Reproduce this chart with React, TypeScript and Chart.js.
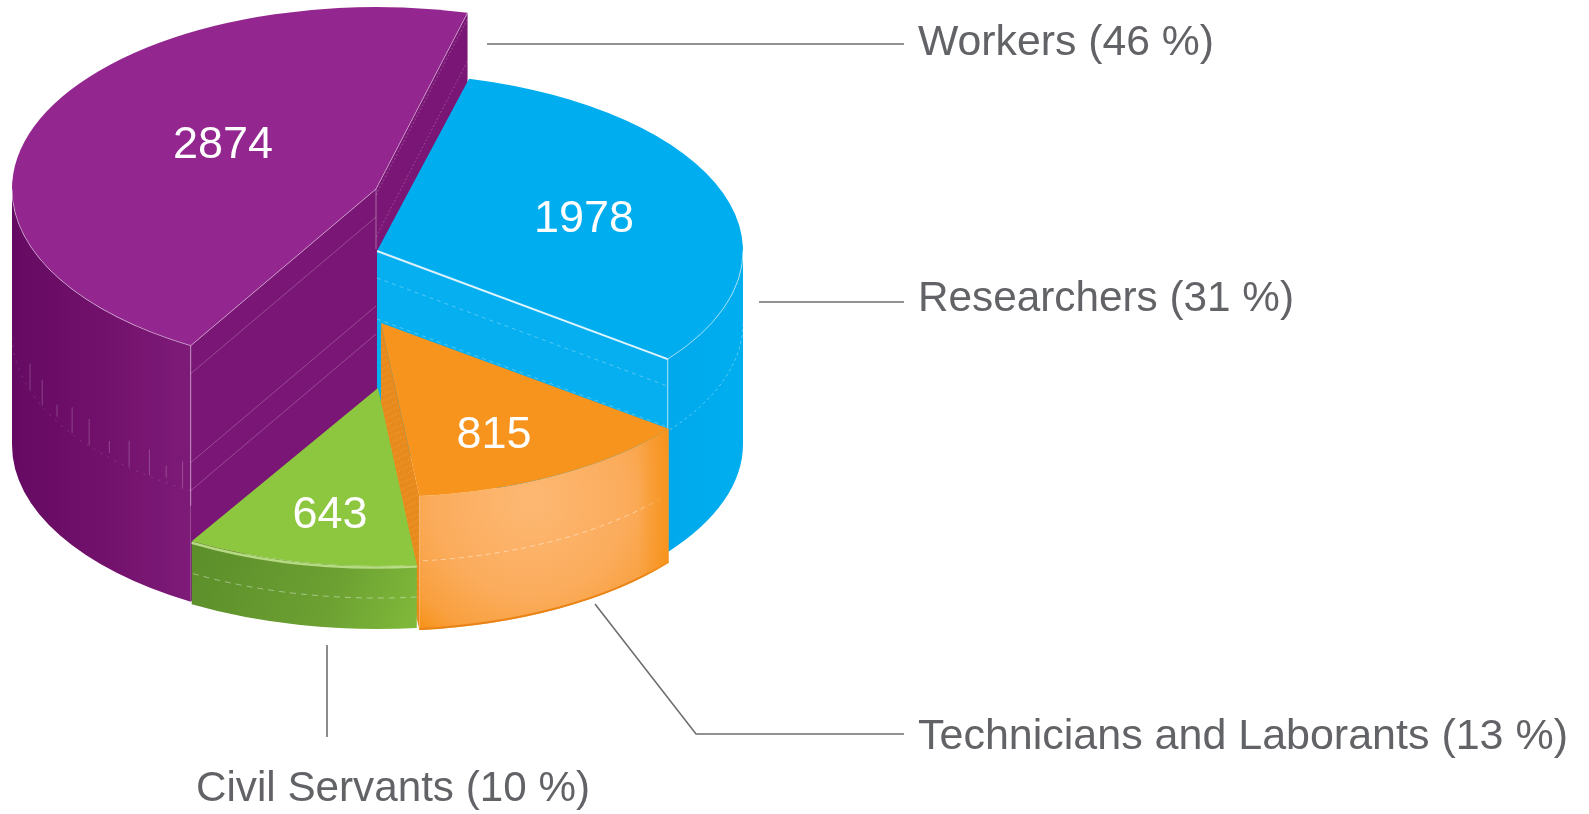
import React, { useEffect, useRef } from "react";
import { Chart, registerables } from "chart.js";

Chart.register(...registerables);

const categories = ["Workers", "Researchers", "Technicians and Laborants", "Civil Servants"];
const employees = [2874, 1978, 815, 643];
const percents = [46, 31, 13, 10];

const topColors = ["#93278F", "#00AEEF", "#F7941E", "#8DC63F"];
const faceColors = ["#7A1675", "#06AFF0", "#E88A1B", "#6E9F2E"];

// placement of the tilted slices on the page
const sliceX = [376, 377, 381, 378];
const sliceY = [189, 251, 323, 388];
const radiusX = [364, 366, 362, 366];
const radiusY = [182, 178, 174, 178];
const depths = [256, 193, 134, 63];

const valuePos = [[223, 146], [584, 220], [494, 436], [330, 516]];
const labelPos = [[918, 55], [918, 311], [918, 749], [196, 801]];
const labelFit = [296, 376, 650, 394];
const leaders = [
  [[487, 44], [904, 44]],
  [[759, 302], [904, 302]],
  [[595, 604], [696, 734], [904, 734]],
  [[327, 645], [327, 737]],
];
const tickAngles = [161.9, 156.5, 151.2, 146.6, 142, 137.1, 132.7, 128.5, 125.2, 122.1];

const rim = (i: number, ang: number, dz = 0) => [
  sliceX[i] + radiusX[i] * Math.cos(ang),
  sliceY[i] + radiusY[i] * Math.sin(ang) + dz,
];

function frontRange(start: number, end: number) {
  const T = Math.PI * 2;
  for (const k of [-T, 0, T]) {
    const a = Math.max(start + k, 0);
    const b = Math.min(end + k, Math.PI);
    if (b > a) return [a, b];
  }
  return null;
}

function wallFill(ctx: CanvasRenderingContext2D, i: number) {
  if (i === 0) {
    const g = ctx.createLinearGradient(13, 0, 193, 0);
    g.addColorStop(0, "#650A62");
    g.addColorStop(0.5, "#72116C");
    g.addColorStop(1, "#7E1B79");
    return g;
  }
  if (i === 1) {
    const g = ctx.createLinearGradient(670, 0, 742, 0);
    g.addColorStop(0, "#00A9EC");
    g.addColorStop(1, "#00AEEF");
    return g;
  }
  if (i === 2) {
    const g = ctx.createRadialGradient(530, 500, 10, 530, 500, 165);
    g.addColorStop(0, "#FDB771");
    g.addColorStop(0.55, "#FBAC5C");
    g.addColorStop(0.85, "#F9A03F");
    g.addColorStop(1, "#F7941E");
    return g;
  }
  const g = ctx.createLinearGradient(200, 540, 418, 628);
  g.addColorStop(0, "#5C8E2A");
  g.addColorStop(0.6, "#6CA032");
  g.addColorStop(1, "#80BA3A");
  return g;
}

function poly(ctx: CanvasRenderingContext2D, pts: number[][]) {
  ctx.beginPath();
  pts.forEach((p, k) => (k ? ctx.lineTo(p[0], p[1]) : ctx.moveTo(p[0], p[1])));
}

function drawFace(ctx: CanvasRenderingContext2D, i: number, ang: number) {
  const h = depths[i];
  const r = rim(i, ang);
  poly(ctx, [[sliceX[i], sliceY[i]], r, [r[0], r[1] + h], [sliceX[i], sliceY[i] + h]]);
  ctx.closePath();
  ctx.fillStyle = faceColors[i];
  ctx.fill();
}

function faceLine(ctx: CanvasRenderingContext2D, i: number, ang: number, dz: number, color: string, dash: number[] = [], w = 1) {
  const r = rim(i, ang, dz);
  ctx.strokeStyle = color;
  ctx.lineWidth = w;
  ctx.setLineDash(dash);
  poly(ctx, [[sliceX[i], sliceY[i] + dz], r]);
  ctx.stroke();
  ctx.setLineDash([]);
}

function rimLine(ctx: CanvasRenderingContext2D, i: number, a: number, b: number, dz: number, color: string, dash: number[] = [], w = 1) {
  ctx.strokeStyle = color;
  ctx.lineWidth = w;
  ctx.setLineDash(dash);
  ctx.beginPath();
  ctx.ellipse(sliceX[i], sliceY[i] + dz, radiusX[i], radiusY[i], 0, a, b);
  ctx.stroke();
  ctx.setLineDash([]);
}

const pie3d = {
  id: "pie3d",
  beforeDatasetDraw(chart: any) {
    const ctx: CanvasRenderingContext2D = chart.ctx;
    const arcs = chart.getDatasetMeta(0).data;
    ctx.save();
    arcs.forEach((arc: any, i: number) => {
      const h = depths[i];
      const x = sliceX[i];
      const y = sliceY[i];
      const rx = radiusX[i];
      const ry = radiusY[i];
      const start = arc.startAngle;
      const end = arc.endAngle;

      // cut faces
      if (i === 0) {
        drawFace(ctx, i, end);
        drawFace(ctx, i, start);
      }
      if (i === 1 || i === 2) drawFace(ctx, i, end);

      // curved outer wall
      const range = frontRange(start, end);
      if (range) {
        ctx.beginPath();
        ctx.ellipse(x, y, rx, ry, 0, range[0], range[1]);
        ctx.ellipse(x, y + h, rx, ry, 0, range[1], range[0], true);
        ctx.closePath();
        ctx.fillStyle = wallFill(ctx, i);
        ctx.fill();
      }

      // decorative seams on the sides
      if (i === 0) {
        const seam = "rgba(255,255,255,0.22)";
        [28, 117, 145].forEach((dz) => faceLine(ctx, 0, start, dz, seam));
        faceLine(ctx, 0, end, 6, seam, [2, 2]);
        faceLine(ctx, 0, end, 48, seam, [2, 2]);
        tickAngles.forEach((deg, k) => {
          const p = rim(0, (deg * Math.PI) / 180, k % 3 === 2 ? 128 : 118);
          poly(ctx, [p, [p[0], p[1] + (k % 3 === 2 ? 12 : 26)]]);
          ctx.strokeStyle = "rgba(255,255,255,0.22)";
          ctx.lineWidth = 1;
          ctx.stroke();
        });
        if (range) rimLine(ctx, 0, range[0], range[1], 145, "rgba(255,255,255,0.15)", [2, 6]);
        const c = rim(0, start);
        poly(ctx, [c, [c[0], c[1] + 160]]);
        ctx.strokeStyle = "rgba(255,255,255,0.4)";
        ctx.stroke();
        poly(ctx, [[x, y], [x, y + 60]]);
        ctx.strokeStyle = "rgba(255,255,255,0.35)";
        ctx.stroke();
      }
      if (i === 1) {
        faceLine(ctx, 1, end, 27, "rgba(255,255,255,0.3)", [4, 4]);
        faceLine(ctx, 1, end, 68, "rgba(255,255,255,0.3)", [4, 4]);
        if (range) rimLine(ctx, 1, range[0], range[1], 72, "rgba(255,255,255,0.35)", [3, 3]);
        const c = rim(1, end);
        poly(ctx, [c, [c[0], c[1] + 70]]);
        ctx.strokeStyle = "rgba(255,255,255,0.4)";
        ctx.lineWidth = 1.5;
        ctx.stroke();
      }
      if (i === 2) {
        for (let k = 1; k < 9; k++) {
          faceLine(ctx, 2, end, k * 13, "rgba(255,255,255,0.12)", [2, 4]);
        }
      }
      if (i === 2 && range) {
        rimLine(ctx, 2, range[0], range[1], 65, "rgba(255,255,255,0.45)", [5, 4]);
        rimLine(ctx, 2, range[0], range[1], h - 1, "rgba(232,130,20,0.95)", [], 2);
        const c = rim(2, start);
        const g = ctx.createLinearGradient(c[0] - 30, 0, c[0], 0);
        g.addColorStop(0, "rgba(247,148,30,0)");
        g.addColorStop(1, "rgba(247,148,30,1)");
        ctx.fillStyle = g;
        ctx.beginPath();
        ctx.ellipse(x, y, rx, ry, 0, start, start + 0.14);
        ctx.ellipse(x, y + h, rx, ry, 0, start + 0.14, start, true);
        ctx.closePath();
        ctx.fill();
      }
      if (i === 3 && range) {
        rimLine(ctx, 3, range[0], range[1], 32, "rgba(255,255,255,0.4)", [6, 5]);
        rimLine(ctx, 3, range[0], range[1], 1.5, "rgba(190,225,140,0.9)", [], 2.5);
      }

      // top face: the library's own arc element, tilted
      ctx.save();
      ctx.translate(x, y);
      ctx.scale(rx / arc.outerRadius, ry / arc.outerRadius);
      ctx.translate(-arc.x, -arc.y);
      arc.draw(ctx);
      ctx.restore();

      // rim highlights on top
      if (i === 0) {
        const c = rim(0, start);
        const d = rim(0, end);
        poly(ctx, [c, [x, y], d]);
        ctx.strokeStyle = "rgba(255,255,255,0.4)";
        ctx.lineWidth = 1;
        ctx.stroke();
        if (range) rimLine(ctx, 0, range[0], range[1], 0, "rgba(255,255,255,0.4)");
      }
      if (i === 1) {
        const c = rim(1, end);
        poly(ctx, [[x, y], c]);
        ctx.strokeStyle = "rgba(255,255,255,0.85)";
        ctx.lineWidth = 2;
        ctx.stroke();
        if (range) rimLine(ctx, 1, range[0], range[1], 0, "rgba(255,255,255,0.5)");
      }
    });
    ctx.restore();
    return false;
  },
  afterDraw(chart: any) {
    const ctx: CanvasRenderingContext2D = chart.ctx;
    ctx.save();
    ctx.textBaseline = "alphabetic";
    leaders.forEach((pts) => {
      poly(ctx, pts);
      ctx.strokeStyle = "#6D6E71";
      ctx.lineWidth = 1.6;
      ctx.stroke();
    });
    ctx.font = '43px "Liberation Sans"';
    ctx.fillStyle = "#626366";
    ctx.textAlign = "left";
    categories.forEach((c, i) => {
      ctx.fillText(`${c} (${percents[i]} %)`, labelPos[i][0], labelPos[i][1], labelFit[i]);
    });
    ctx.font = '45px "Liberation Sans"';
    ctx.fillStyle = "#FFFFFF";
    ctx.textAlign = "center";
    ctx.textBaseline = "middle";
    employees.forEach((v, i) => {
      ctx.fillText(String(v), valuePos[i][0], valuePos[i][1]);
    });
    ctx.restore();
  },
};

export default function App() {
  const ref = useRef<HTMLCanvasElement>(null);
  useEffect(() => {
    document.body.style.margin = "0";
    document.body.style.background = "#FFFFFF";
    const chart = new Chart(ref.current!, {
      type: "pie",
      data: {
        labels: categories,
        datasets: [{ data: employees, backgroundColor: topColors, borderWidth: 0 }],
      },
      options: {
        animation: false,
        responsive: false,
        rotation: -149.4,
        plugins: { legend: { display: false }, tooltip: { enabled: false }, title: { display: false } },
      },
      plugins: [pie3d],
    } as any);
    return () => chart.destroy();
  }, []);
  return <canvas ref={ref} width={1589} height={814} style={{ display: "block" }} />;
}
